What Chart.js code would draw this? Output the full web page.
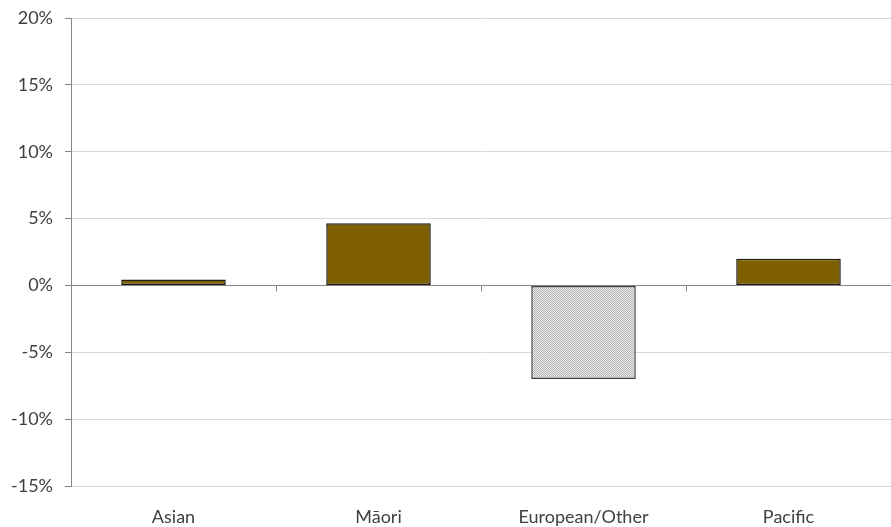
<!DOCTYPE html>
<html>
<head>
<meta charset="utf-8">
<script src="https://cdn.jsdelivr.net/npm/chart.js@4/dist/chart.umd.min.js"></script>
<style>
  html, body { margin: 0; padding: 0; background: #fff; }
  #wrap { width: 891px; height: 527px; position: relative; }
</style>
</head>
<body>
<div id="wrap"><canvas id="chart"></canvas></div>
<script>
// data
const categories = ['Asian', 'M\u0101ori', 'European/Other', 'Pacific'];
const values = [0.45, 4.65, -7.0, 2.0];
const yTicks = [-15, -10, -5, 0, 5, 10, 15, 20];

// light gray dotted fill for the negative bar
function dotPattern() {
  const c = document.createElement('canvas');
  c.width = 2; c.height = 2;
  const g = c.getContext('2d');
  g.fillStyle = '#ececec';
  g.fillRect(0, 0, 2, 2);
  g.fillStyle = '#b4b4b4';
  g.fillRect(0, 0, 1, 1);
  g.fillRect(1, 1, 1, 1);
  return g.createPattern(c, 'repeat');
}
const pattern = dotPattern();

// small tick marks on the zero line between categories
const zeroTicks = {
  id: 'zeroTicks',
  afterDatasetsDraw(chart) {
    const x = chart.scales.x, y = chart.scales.y;
    const y0 = y.getPixelForValue(0);
    const ctx = chart.ctx;
    ctx.save();
    ctx.strokeStyle = '#868686';
    ctx.lineWidth = 1;
    for (let i = 1; i < categories.length; i++) {
      const px = Math.round((x.getPixelForValue(i - 1) + x.getPixelForValue(i)) / 2) + 0.5;
      ctx.beginPath();
      ctx.moveTo(px, y0);
      ctx.lineTo(px, y0 + 6);
      ctx.stroke();
    }
    ctx.restore();
  }
};

new Chart(document.getElementById('chart'), {
  type: 'bar',
  data: {
    labels: categories,
    datasets: [{
      data: values,
      backgroundColor: ctx => ctx.raw < 0 ? pattern : '#7F6000',
      borderColor: ctx => ctx.raw < 0 ? '#404040' : '#1e1a10',
      borderWidth: 1.5,
      borderSkipped: false,
      barPercentage: 0.51,
      categoryPercentage: 1.0
    }]
  },
  options: {
    responsive: true,
    maintainAspectRatio: false,
    animation: false,
    layout: { padding: 0 },
    plugins: { legend: { display: false }, tooltip: { enabled: false } },
    scales: {
      x: {
        grid: { display: false },
        border: { display: false },
        ticks: {
          color: '#404040',
          font: { family: 'Lato', size: 18 },
          padding: 12
        },
        afterFit: s => { s.height = 41; }
      },
      y: {
        min: -15,
        max: 20,
        afterBuildTicks: s => { s.ticks = yTicks.map(v => ({ value: v })); },
        grid: {
          color: ctx => ctx.tick && ctx.tick.value === 0 ? '#868686' : '#d9d9d9',
          tickColor: '#868686',
          tickLength: 6
        },
        border: { color: '#868686' },
        ticks: {
          color: '#404040',
          font: { family: 'Lato', size: 18 },
          padding: 12,
          callback: v => v + '%'
        },
        afterFit: s => { s.width = 71; s.paddingTop = 18; s.paddingBottom = 0; }
      }
    }
  },
  plugins: [zeroTicks]
});
</script>
</body>
</html>
